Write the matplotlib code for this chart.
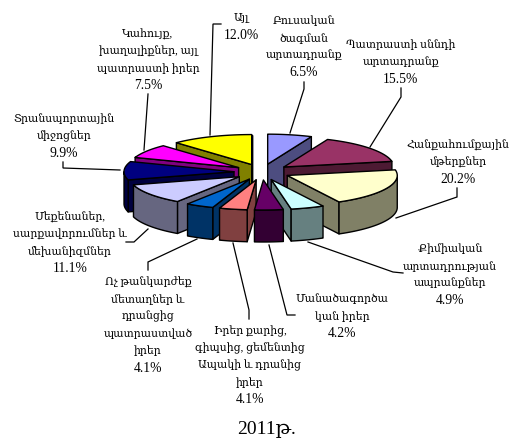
import numpy as np
import matplotlib
matplotlib.use('Agg')
import matplotlib.pyplot as plt
from matplotlib.patches import Polygon

# slices, clockwise from 12 o'clock
categories = [
    'Բուսական\nծագման\nարտադրանք',
    'Պատրաստի սննդի\nարտադրանք',
    'Հանքահումքային\nմթերքներ',
    'Քիմիական\nարտադրության\nապրանքներ',
    'Մանածագործա\nկան իրեր',
    'Իրեր քարից,\nգիպսից, ցեմենտից\nԱպակի և դրանից\nիրեր',
    'Ոչ թանկարժեք\nմետաղներ և\nդրանցից\nպատրաստված\nիրեր',
    'Մեքենաներ,\nսարքավորումներ և\nմեխանիզմներ',
    'Տրանսպորտային\nմիջոցներ',
    'Կահույք,\nխաղալիքներ, այլ\nպատրաստի իրեր',
    'Այլ',
]
values = [6.5, 15.5, 20.2, 4.9, 4.2, 4.1, 4.1, 11.1, 9.9, 7.5, 12.0]
top_colors = ['#9999FF', '#993366', '#FFFFCC', '#CCFFFF', '#660066', '#FF8080',
              '#0066CC', '#CCCCFF', '#000080', '#FF00FF', '#FFFF00']
side_colors = ['#4D4D80', '#4D1A33', '#808066', '#668080', '#330033', '#804040',
               '#003366', '#666680', '#000040', '#800080', '#808000']
title = '2011թ.'

# pie geometry in pixels
cx, cy = 262, 172
rx, ry = 110, 30
ex, ey = 28, 8
depth = 32

# label centre x, first line y
label_pos = [(304, 21), (401, 45), (458, 145), (450, 249), (342, 299), (250, 331),
             (148, 282), (70, 217), (64, 119), (148, 34), (241, 18)]
line_pitch = 17.2
leaders = [
    [(290, 133), (304, 89), (304, 82)],
    [(370, 147), (401, 97), (401, 88)],
    [(396, 218), (457, 197), (457, 188)],
    [(308, 242), (393, 272), (403, 273)],
    [(269, 245), (287, 315), (295, 315)],
    [(233, 243), (249, 310), (249, 319)],
    [(197, 239), (148, 262), (148, 270)],
    [(148, 229), (134, 242), (126, 242)],
    [(120, 170), (63, 168), (63, 162)],
    [(144, 150), (148, 94)],
    [(210, 135), (213, 24), (221, 24)],
]
draw_order = [0, 10, 9, 1, 8, 2, 7, 6, 3, 5, 4]

fonts = ['Liberation Serif', 'DejaVu Serif', 'DejaVu Sans']

fig = plt.figure(figsize=(5.13, 4.4), dpi=100)
ax = fig.add_axes([0, 0, 1, 1])
ax.set_xlim(0, 513)
ax.set_ylim(440, 0)
ax.axis('off')

edges = np.cumsum([0] + values) / sum(values) * 2 * np.pi


def rim(t, x0, y0):
    return np.column_stack([x0 + rx * np.sin(t), y0 - ry * np.cos(t)])


def add_poly(pts, color):
    ax.add_patch(Polygon(pts, closed=True, facecolor=color, edgecolor='black',
                         linewidth=1.0, joinstyle='round'))


for i in draw_order:
    t0, t1 = edges[i], edges[i + 1]
    mid = (t0 + t1) / 2
    x0 = cx + ex * np.sin(mid)
    y0 = cy - ey * np.cos(mid)
    tip = np.array([x0, y0])
    drop = np.array([0, depth])

    # cut faces that look downward
    for t, visible in ((t0, np.sin(t0) < 0), (t1, np.sin(t1) > 0)):
        if visible:
            p = rim(np.array([t]), x0, y0)[0]
            add_poly([tip, p, p + drop, tip + drop], side_colors[i])

    # outer wall, front half of the ellipse only
    a, b = max(t0, np.pi / 2), min(t1, 3 * np.pi / 2)
    if a < b:
        arc = rim(np.linspace(a, b, 40), x0, y0)
        add_poly(np.vstack([arc, arc[::-1] + drop]), side_colors[i])

    # top
    arc = rim(np.linspace(t0, t1, 60), x0, y0)
    add_poly(np.vstack([tip, arc]), top_colors[i])

for path in leaders:
    xs, ys = zip(*path)
    ax.plot(xs, ys, color='black', linewidth=0.9, solid_joinstyle='miter')

for name, val, (x, y) in zip(categories, values, label_pos):
    lines = name.split('\n')
    for n, line in enumerate(lines):
        ax.text(x, y + n * line_pitch, line, ha='center', va='center',
                fontsize=7.8, family=fonts, color='black')
    ax.text(x, y + len(lines) * line_pitch, '%.1f%%' % val, ha='center', va='center',
            fontsize=9.8, family=fonts, color='black')

ax.text(267, 429, title, ha='center', va='center', fontsize=14, family=fonts, color='black')

fig.savefig('out.png', dpi=100)
